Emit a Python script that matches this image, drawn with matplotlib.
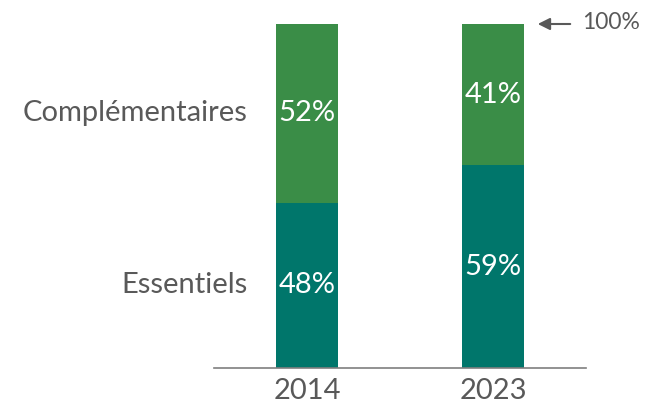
import matplotlib
matplotlib.use("Agg")
import matplotlib.pyplot as plt

years = ["2014", "2023"]
essentiels = [48, 59]
complementaires = [52, 41]
series_names = ["Essentiels", "Complémentaires"]
c_ess = "#00766b"
c_comp = "#3a8d47"
gray = "#595959"

plt.rcParams['font.family'] = ['Lato', 'DejaVu Sans']

fig = plt.figure(figsize=(6.46, 4.04), dpi=100)
ax = fig.add_axes([214/646, 36/404, 372/646, 344/404])
x = [0, 1]
w = 62/186
ax.bar(x, essentiels, width=w, color=c_ess)
ax.bar(x, complementaires, width=w, bottom=essentiels, color=c_comp)
ax.set_xlim(-0.5, 1.5)
ax.set_ylim(0, 100)
fs = 21
for i in range(2):
    ax.text(x[i], essentiels[i]/2, f"{essentiels[i]}%", ha="center", va="center",
            color="white", fontsize=fs)
    ax.text(x[i], essentiels[i] + complementaires[i]/2, f"{complementaires[i]}%",
            ha="center", va="center", color="white", fontsize=fs)
lx = -w/2 - 28/186
ax.text(lx, essentiels[0]/2, series_names[0], ha="right", va="center",
        color=gray, fontsize=fs, clip_on=False)
ax.text(lx, essentiels[0] + complementaires[0]/2, series_names[1], ha="right",
        va="center", color=gray, fontsize=fs, clip_on=False)
ax.annotate("", xy=(1 + w/2 + 11/186, 100), xytext=(1 + w/2 + 49/186, 100),
            arrowprops=dict(arrowstyle="-|>", color=gray, lw=1.5, mutation_scale=18),
            annotation_clip=False)
ax.text(1 + w/2 + 58/186, 100.5, "100%", ha="left", va="center", color=gray,
        fontsize=16.5, clip_on=False)
ax.set_xticks(x)
ax.set_xticklabels(years, fontsize=fs, color=gray)
ax.tick_params(axis="x", length=0, pad=7)
ax.set_yticks([])
for s in ["top", "right", "left"]:
    ax.spines[s].set_visible(False)
ax.spines["bottom"].set_color("#7f7f7f")
ax.spines["bottom"].set_linewidth(1.2)
fig.savefig("out.png", dpi=100)
